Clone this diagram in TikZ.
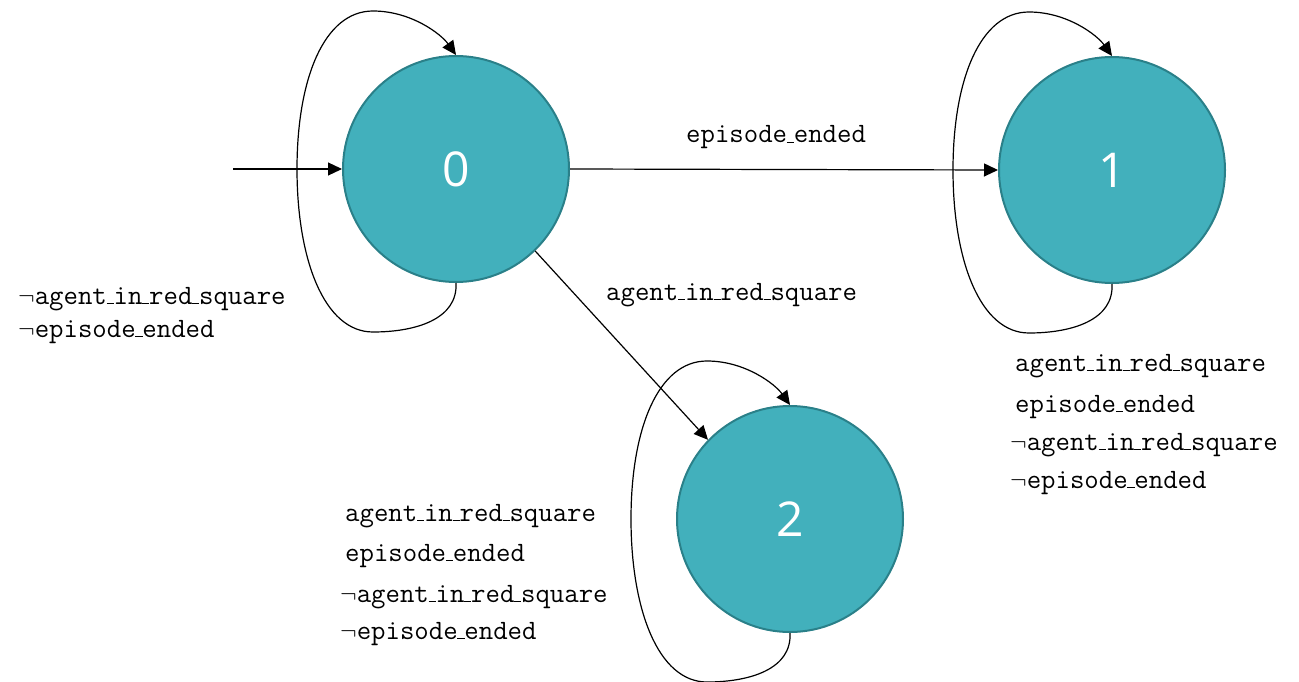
\documentclass[tikz,border=0pt]{standalone}
\usepackage{fontspec}
\newfontfamily\numfont{Open Sans}
\usetikzlibrary{arrows.meta}
\definecolor{statefill}{HTML}{42B0BC}
\definecolor{stateline}{HTML}{2A8089}
% low underscore as in classic typewriter output
\newcommand\usc{\leavevmode\kern-.01em\vbox{\hrule width.26em height .05em}\kern-.01em}
\newcommand\nt{$\neg$}
\tikzset{
  state/.style={circle, draw=stateline, line width=2pt, fill=statefill,
    minimum size=226pt, inner sep=0pt,
    font=\numfont\fontsize{48}{48}\selectfont, text=white},
  link/.style={draw=black, line width=1.2pt, -{Triangle[length=14pt,width=13pt]}},
  lbl/.style={anchor=base west, inner sep=0pt, font=\ttfamily\fontsize{28}{28}\selectfont},
}
% self loop around a state, passing on its left side
\newcommand\selfloop[1]{%
  \begin{scope}[shift={(#1.center)}]
    \draw[link] (#1.south) .. controls (2,150) and (-40,163) .. (-83,163)
      .. controls (-132,163) and (-159,90) .. (-159,0)
      .. controls (-159,-90) and (-132,-158) .. (-83,-158)
      .. controls (-45,-158) and (-15,-135) .. (#1.north);
  \end{scope}}
\begin{document}
\begin{tikzpicture}[x=1pt,y=-1pt]
  \useasboundingbox (0,0) rectangle (1299,682);

  % states
  \node[state] (n0) at (456,169) {0};
  \node[state] (n1) at (1112,170) {1};
  \node[state] (n2) at (790,519) {2};

  % transitions
  \coordinate (init) at (233,169);
  \draw[link] (init) -- (n0.west);
  \draw[link] (n0.east) -- (n1.west);
  \draw[link] (n0.-46) -- (n2.136);
  \selfloop{n0}
  \selfloop{n1}
  \selfloop{n2}

  % transition labels
  \node[lbl] (l01) at (686,143) {episode\usc ended};
  \node[lbl] (l02) at (606,300) {agent\usc in\usc red\usc square};

  \node[lbl] (l00a) at (18,304) {\nt agent\usc in\usc red\usc square};
  \node[lbl] (l00b) at (18,337) {\nt episode\usc ended};

  \node[lbl] (l11a) at (1015,371) {agent\usc in\usc red\usc square};
  \node[lbl] (l11b) at (1015,412) {episode\usc ended};
  \node[lbl] (l11c) at (1010,450) {\nt agent\usc in\usc red\usc square};
  \node[lbl] (l11d) at (1010,488) {\nt episode\usc ended};

  \node[lbl] (l22a) at (345,521) {agent\usc in\usc red\usc square};
  \node[lbl] (l22b) at (345,561) {episode\usc ended};
  \node[lbl] (l22c) at (340,602) {\nt agent\usc in\usc red\usc square};
  \node[lbl] (l22d) at (340,639) {\nt episode\usc ended};
\end{tikzpicture}
\end{document}
